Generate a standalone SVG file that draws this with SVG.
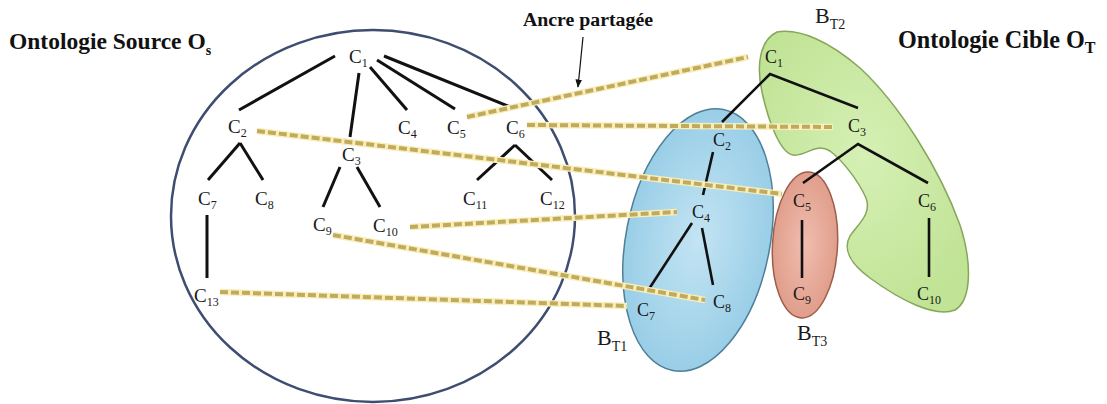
<svg xmlns="http://www.w3.org/2000/svg" width="1107" height="404" viewBox="0 0 1107 404">
<style>
text{font-family:"Liberation Serif","Times New Roman",serif}
.n{font-size:19px;fill:#1a1a1a}
.tn{font-size:18px;fill:#1a1a1a}
.s{font-size:12px}
.ttl{font-weight:bold;fill:#111}
.blk{font-size:22px;fill:#1a1a1a}
.bs{font-size:14px}
.edge{stroke:#111;stroke-width:3;stroke-linecap:butt;fill:none}
.tedge{stroke:#111;stroke-width:2.6;fill:none}
.halo{stroke:#f7eebb;stroke-width:6.5;fill:none}
.dash{stroke:#c2aa5c;stroke-width:4;stroke-dasharray:8 3;fill:none}
</style>
<defs>
<marker id="arr" viewBox="0 0 10 10" refX="9" refY="5" markerWidth="7" markerHeight="7" orient="auto">
<path d="M0,1 L10,5 L0,9 Z" fill="#111"/>
</marker>
<radialGradient id="gb" cx="50%" cy="50%" r="55%">
<stop offset="0" stop-color="#c3e4f3"/>
<stop offset="1" stop-color="#95cce6"/>
</radialGradient>
<radialGradient id="gr" cx="50%" cy="50%" r="55%">
<stop offset="0" stop-color="#f0bdaf"/>
<stop offset="1" stop-color="#df9b88"/>
</radialGradient>
<radialGradient id="gg" cx="50%" cy="45%" r="60%">
<stop offset="0" stop-color="#d6f0b5"/>
<stop offset="1" stop-color="#c0e395"/>
</radialGradient>
</defs>
<rect width="1107" height="404" fill="#ffffff"/>

<g id="titles">
<text class="ttl" x="9" y="49" font-size="23.5">Ontologie Source O<tspan font-size="14" dy="6">s</tspan></text>
<text class="ttl" x="898" y="48" font-size="24.2">Ontologie Cible O<tspan font-size="16" dy="5">T</tspan></text>
</g>

<g id="source-ontology">
<ellipse cx="373" cy="216" rx="202" ry="186" fill="none" stroke="#3e4d70" stroke-width="2.5"/>
</g>

<g id="block-BT1">
<ellipse cx="698" cy="240" rx="72" ry="133" transform="rotate(11 698 240)" fill="url(#gb)" stroke="#4f7f98" stroke-width="1.5"/>
<text class="blk" x="597" y="345">B<tspan class="bs" dy="6">T1</tspan></text>
</g>
<g id="block-BT3">
<ellipse cx="805" cy="245" rx="32.5" ry="73" transform="rotate(3 805 245)" fill="url(#gr)" stroke="#9e5c4a" stroke-width="1.5"/>
<text class="blk" x="797" y="340">B<tspan class="bs" dy="6">T3</tspan></text>
</g>
<g id="block-BT2">
<path d="M777,32 C800,28 830,42 860,68 C900,105 940,170 960,225 C972,262 972,300 955,310 C935,318 900,300 870,278 C852,265 842,250 850,236 C858,224 872,214 866,198 C858,180 842,160 830,151 C815,142 806,157 793,155 C780,153 768,120 762,92 C756,65 760,40 777,32 Z" fill="url(#gg)" stroke="#86a65a" stroke-width="1.5"/>
<text class="blk" x="815" y="23" font-size="21">B<tspan class="bs" dy="6">T2</tspan></text>
</g>

<g id="connectors">
<g id="source-edges">
<line class="edge" x1="335" y1="56" x2="239" y2="110"/>
<line class="edge" x1="359" y1="73" x2="350" y2="137"/>
<line class="edge" x1="370" y1="67" x2="407" y2="110"/>
<line class="edge" x1="377" y1="60" x2="455" y2="109"/>
<line class="edge" x1="384" y1="56" x2="513" y2="108"/>
<line class="edge" x1="240" y1="143" x2="208" y2="180"/>
<line class="edge" x1="240" y1="143" x2="263" y2="180"/>
<line class="edge" x1="340" y1="167" x2="323" y2="207"/>
<line class="edge" x1="357" y1="167" x2="380" y2="207"/>
<line class="edge" x1="515" y1="145" x2="477" y2="180"/>
<line class="edge" x1="515" y1="145" x2="552" y2="180"/>
<line class="edge" x1="207" y1="215" x2="207" y2="278"/>
</g>
<g id="target-edges">
<polyline class="tedge" points="722,122 770,74 858,108"/>
<polyline class="tedge" points="803,183 858,144 928,183"/>
<line class="tedge" x1="713" y1="152" x2="703" y2="195"/>
<line class="tedge" x1="692" y1="223" x2="647" y2="292"/>
<line class="tedge" x1="702" y1="228" x2="713" y2="285"/>
<line class="tedge" x1="802" y1="220" x2="802" y2="278"/>
<line class="tedge" x1="929" y1="218" x2="929" y2="277"/>
</g>
<g id="anchors">
<line class="halo" x1="467" y1="117" x2="748" y2="57"/>
<line class="halo" x1="527" y1="125" x2="833" y2="127"/>
<line class="halo" x1="257" y1="131" x2="782" y2="194"/>
<line class="halo" x1="410" y1="227" x2="677" y2="212"/>
<line class="halo" x1="333" y1="235" x2="705" y2="300"/>
<line class="halo" x1="220" y1="292" x2="627" y2="306"/>
<line class="dash" x1="467" y1="117" x2="748" y2="57"/>
<line class="dash" x1="527" y1="125" x2="833" y2="127"/>
<line class="dash" x1="257" y1="131" x2="782" y2="194"/>
<line class="dash" x1="410" y1="227" x2="677" y2="212"/>
<line class="dash" x1="333" y1="235" x2="705" y2="300"/>
<line class="dash" x1="220" y1="292" x2="627" y2="306"/>
</g>
<line x1="583" y1="37" x2="578" y2="87" stroke="#111" stroke-width="1.2" marker-end="url(#arr)"/>
</g>

<g id="label-ancre">
<text class="ttl" x="523" y="26" font-size="18" textLength="130" lengthAdjust="spacingAndGlyphs">Ancre partagée</text>
</g>

<g id="s-C1"><text class="n" x="349" y="63">C<tspan class="s" dy="4">1</tspan></text></g>
<g id="s-C2"><text class="n" x="228" y="133">C<tspan class="s" dy="4">2</tspan></text></g>
<g id="s-C3"><text class="n" x="342" y="161">C<tspan class="s" dy="4">3</tspan></text></g>
<g id="s-C4"><text class="n" x="398" y="134">C<tspan class="s" dy="4">4</tspan></text></g>
<g id="s-C5"><text class="n" x="447" y="134">C<tspan class="s" dy="4">5</tspan></text></g>
<g id="s-C6"><text class="n" x="506" y="134">C<tspan class="s" dy="4">6</tspan></text></g>
<g id="s-C7"><text class="n" x="198" y="205">C<tspan class="s" dy="4">7</tspan></text></g>
<g id="s-C8"><text class="n" x="255" y="205">C<tspan class="s" dy="4">8</tspan></text></g>
<g id="s-C9"><text class="n" x="313" y="231">C<tspan class="s" dy="4">9</tspan></text></g>
<g id="s-C10"><text class="n" x="373" y="232">C<tspan class="s" dy="4">10</tspan></text></g>
<g id="s-C11"><text class="n" x="463" y="205">C<tspan class="s" dy="4">11</tspan></text></g>
<g id="s-C12"><text class="n" x="540" y="205">C<tspan class="s" dy="4">12</tspan></text></g>
<g id="s-C13"><text class="n" x="194" y="302">C<tspan class="s" dy="4">13</tspan></text></g>

<g id="t-C1"><text class="tn" x="765" y="63">C<tspan class="s" dy="4">1</tspan></text></g>
<g id="t-C2"><text class="tn" x="713" y="146">C<tspan class="s" dy="4">2</tspan></text></g>
<g id="t-C3"><text class="tn" x="848" y="132">C<tspan class="s" dy="4">3</tspan></text></g>
<g id="t-C4"><text class="tn" x="692" y="218">C<tspan class="s" dy="4">4</tspan></text></g>
<g id="t-C5"><text class="tn" x="793" y="207">C<tspan class="s" dy="4">5</tspan></text></g>
<g id="t-C6"><text class="tn" x="918" y="207">C<tspan class="s" dy="4">6</tspan></text></g>
<g id="t-C7"><text class="tn" x="637" y="316">C<tspan class="s" dy="4">7</tspan></text></g>
<g id="t-C8"><text class="tn" x="713" y="308">C<tspan class="s" dy="4">8</tspan></text></g>
<g id="t-C9"><text class="tn" x="793" y="300">C<tspan class="s" dy="4">9</tspan></text></g>
<g id="t-C10"><text class="tn" x="917" y="300">C<tspan class="s" dy="4">10</tspan></text></g>
</svg>
